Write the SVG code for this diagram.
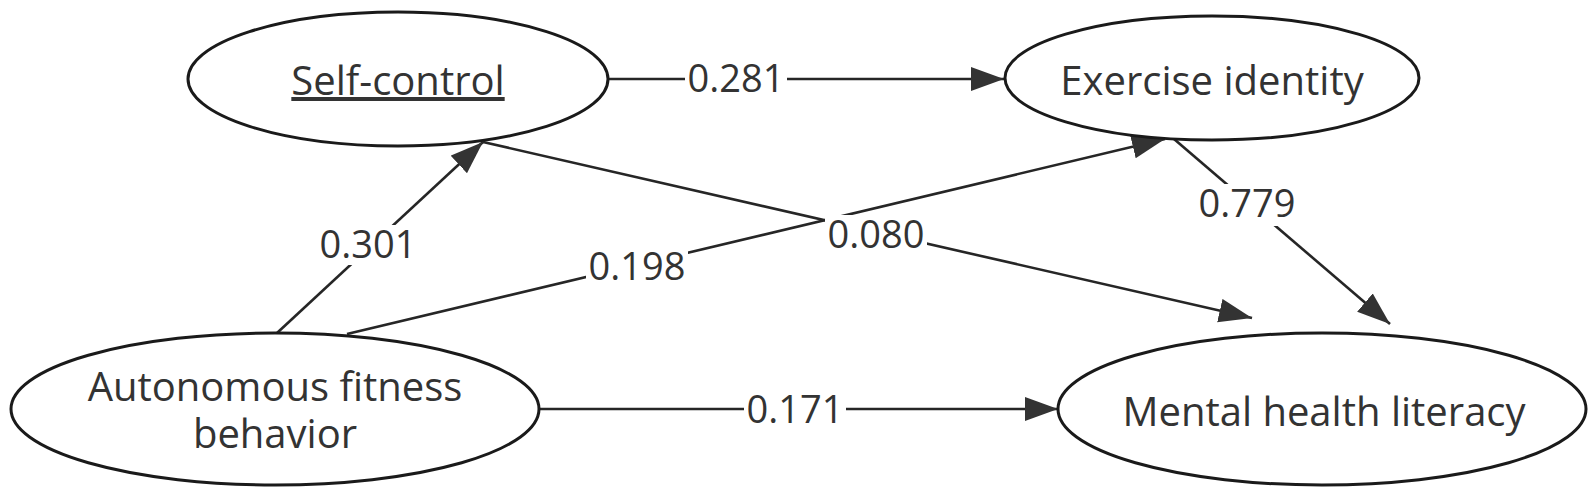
<svg xmlns="http://www.w3.org/2000/svg" width="1595" height="496" viewBox="0 0 1595 496">
<defs>
<style>
.node{fill:#fff;stroke:#1a1a1a;stroke-width:3}
.nt{font-family:"Open Sans","Noto Sans","Liberation Sans",sans-serif;font-size:40px;fill:#333;text-anchor:middle}
.edge{stroke:#262626;stroke-width:2.6;fill:none}
.lbg{fill:#fff}
.lt{font-family:"Open Sans","Noto Sans","Liberation Sans",sans-serif;font-size:38px;fill:#333;text-anchor:middle}
</style>
<marker id="arr" markerUnits="userSpaceOnUse" markerWidth="34" markerHeight="26" refX="33" refY="12" orient="auto">
<path d="M0,0 L33,12 L0,24 Z" fill="#333"/>
</marker>
</defs>
<rect width="1595" height="496" fill="#fff"/>
<g id="connectors">
<line class="edge" x1="605" y1="79" x2="1004" y2="79" marker-end="url(#arr)"/>
<line class="edge" x1="277" y1="333" x2="483" y2="142" marker-end="url(#arr)"/>
<line class="edge" x1="347" y1="334" x2="1165" y2="139" marker-end="url(#arr)"/>
<line class="edge" x1="483" y1="142" x2="1252" y2="318" marker-end="url(#arr)"/>
<line class="edge" x1="1174" y1="139" x2="1390" y2="324" marker-end="url(#arr)"/>
<line class="edge" x1="539" y1="409" x2="1058" y2="409" marker-end="url(#arr)"/>
<g id="labels">
<rect class="lbg" x="685" y="60" width="102" height="38"/>
<text class="lt" x="736" y="92">0.281</text>
<rect class="lbg" x="317" y="225" width="102" height="40"/>
<text class="lt" x="368" y="258">0.301</text>
<rect class="lbg" x="586" y="247" width="102" height="40"/>
<text class="lt" x="637" y="280">0.198</text>
<rect class="lbg" x="825" y="215" width="102" height="40"/>
<text class="lt" x="876" y="248">0.080</text>
<rect class="lbg" x="1196" y="184" width="102" height="42"/>
<text class="lt" x="1247" y="217">0.779</text>
<rect class="lbg" x="744" y="390" width="102" height="38"/>
<text class="lt" x="795" y="423">0.171</text>
</g>
</g>
<g id="self-control">
<ellipse class="node" cx="398" cy="79" rx="210" ry="67"/>
<text class="nt" x="398" y="95" text-decoration="underline">Self-control</text>
</g>
<g id="exercise-identity">
<ellipse class="node" cx="1212" cy="78" rx="207" ry="62"/>
<text class="nt" x="1212" y="95">Exercise identity</text>
</g>
<g id="autonomous-fitness-behavior">
<ellipse class="node" cx="275" cy="409" rx="264" ry="76"/>
<text class="nt" x="275" y="401">Autonomous fitness</text>
<text class="nt" x="275" y="448">behavior</text>
</g>
<g id="mental-health-literacy">
<ellipse class="node" cx="1322" cy="409" rx="264" ry="76"/>
<text class="nt" x="1324" y="426">Mental health literacy</text>
</g>
</svg>
